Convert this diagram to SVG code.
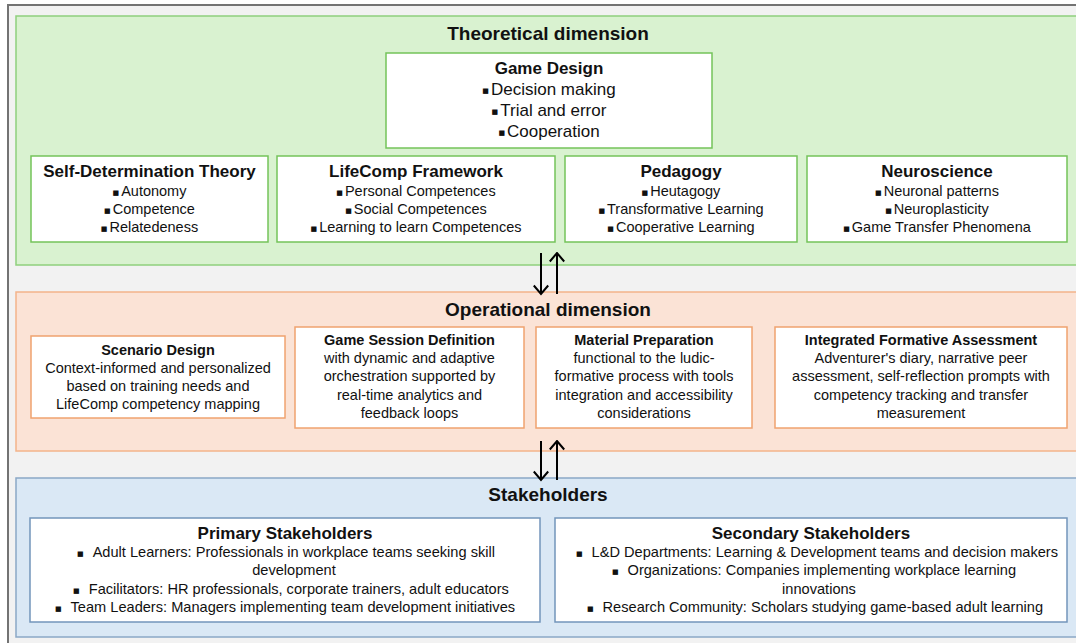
<svg xmlns="http://www.w3.org/2000/svg" width="1076" height="643" viewBox="0 0 1076 643">
<defs>
<marker id="ah" viewBox="0 0 12 16" refX="10.5" refY="8" markerWidth="12" markerHeight="16" markerUnits="userSpaceOnUse" orient="auto">
<path d="M2,0.8 L10.5,8 L2,15.2" fill="none" stroke="#000" stroke-width="2"/>
</marker>
<style>
text{font-family:"Liberation Sans",Arial,sans-serif;fill:#111;text-anchor:middle}
.h{font-weight:bold;font-size:19px}
.t{font-weight:bold;font-size:17px}
.ot{font-weight:bold;font-size:14.5px}
.i{font-size:14.5px}
.gi{font-size:17px}
.s{font-size:14.6px}
.b{font-family:"DejaVu Sans",sans-serif;font-size:7px}
.gbox{fill:#fff;stroke:#74c35a;stroke-width:1.5}
.obox{fill:#fff;stroke:#f0a36f;stroke-width:1.5}
.bbox{fill:#fff;stroke:#7395bb;stroke-width:1.5}
.conn{stroke:#000;stroke-width:2;fill:none;marker-end:url(#ah)}
</style>
</defs>
<rect x="8" y="5" width="1080" height="650" fill="#f2f2f2" stroke="#737373" stroke-width="2"/>

<g id="theoretical">
<rect x="16" y="16" width="1070" height="249" fill="#d9f2d0" stroke="#8fd07d" stroke-width="1.5"/>
<text class="h" x="548" y="40">Theoretical dimension</text>
</g>
<g id="game-design">
<rect class="gbox" x="386" y="53" width="326" height="95"/>
<text class="t" x="549" y="74">Game Design</text>
<text class="gi" x="549" y="95"><tspan class="b" baseline-shift="2">■</tspan><tspan dx="2">Decision making</tspan></text>
<text class="gi" x="549" y="116"><tspan class="b" baseline-shift="2">■</tspan><tspan dx="2">Trial and error</tspan></text>
<text class="gi" x="549" y="137"><tspan class="b" baseline-shift="2">■</tspan><tspan dx="2">Cooperation</tspan></text>
</g>
<g id="sdt">
<rect class="gbox" x="31" y="156" width="237" height="86"/>
<text class="t" x="149.5" y="177">Self-Determination Theory</text>
<text class="i" x="149.5" y="196"><tspan class="b" baseline-shift="1.5">■</tspan><tspan dx="2">Autonomy</tspan></text>
<text class="i" x="149.5" y="214"><tspan class="b" baseline-shift="1.5">■</tspan><tspan dx="2">Competence</tspan></text>
<text class="i" x="149.5" y="232"><tspan class="b" baseline-shift="1.5">■</tspan><tspan dx="2">Relatedeness</tspan></text>
</g>
<g id="lifecomp">
<rect class="gbox" x="277" y="156" width="278" height="86"/>
<text class="t" x="416" y="177">LifeComp Framework</text>
<text class="i" x="416" y="196"><tspan class="b" baseline-shift="1.5">■</tspan><tspan dx="2">Personal Competences</tspan></text>
<text class="i" x="416" y="214"><tspan class="b" baseline-shift="1.5">■</tspan><tspan dx="2">Social Competences</tspan></text>
<text class="i" x="416" y="232"><tspan class="b" baseline-shift="1.5">■</tspan><tspan dx="2">Learning to learn Competences</tspan></text>
</g>
<g id="pedagogy">
<rect class="gbox" x="565" y="156" width="232" height="86"/>
<text class="t" x="681" y="177">Pedagogy</text>
<text class="i" x="681" y="196"><tspan class="b" baseline-shift="1.5">■</tspan><tspan dx="2">Heutagogy</tspan></text>
<text class="i" x="681" y="214"><tspan class="b" baseline-shift="1.5">■</tspan><tspan dx="2">Transformative Learning</tspan></text>
<text class="i" x="681" y="232"><tspan class="b" baseline-shift="1.5">■</tspan><tspan dx="2">Cooperative Learning</tspan></text>
</g>
<g id="neuroscience">
<rect class="gbox" x="807" y="156" width="260" height="86"/>
<text class="t" x="937" y="177">Neuroscience</text>
<text class="i" x="937" y="196"><tspan class="b" baseline-shift="1.5">■</tspan><tspan dx="2">Neuronal patterns</tspan></text>
<text class="i" x="937" y="214"><tspan class="b" baseline-shift="1.5">■</tspan><tspan dx="2">Neuroplasticity</tspan></text>
<text class="i" x="937" y="232"><tspan class="b" baseline-shift="1.5">■</tspan><tspan dx="2">Game Transfer Phenomena</tspan></text>
</g>

<g id="operational">
<rect x="16" y="292" width="1070" height="159" fill="#fbe3d6" stroke="#f4b48a" stroke-width="1.5"/>
<text class="h" x="548" y="316">Operational dimension</text>
</g>
<g id="scenario-design">
<rect class="obox" x="31" y="336" width="254" height="82"/>
<text class="ot" x="158" y="355">Scenario Design</text>
<text class="i" x="158" y="373">Context-informed and personalized</text>
<text class="i" x="158" y="391">based on training needs and</text>
<text class="i" x="158" y="409">LifeComp competency mapping</text>
</g>
<g id="game-session">
<rect class="obox" x="295" y="327" width="229" height="101"/>
<text class="ot" x="409.5" y="345">Game Session Definition</text>
<text class="i" x="409.5" y="363">with dynamic and adaptive</text>
<text class="i" x="409.5" y="381">orchestration supported by</text>
<text class="i" x="409.5" y="400">real-time analytics and</text>
<text class="i" x="409.5" y="418">feedback loops</text>
</g>
<g id="material-preparation">
<rect class="obox" x="536" y="327" width="216" height="101"/>
<text class="ot" x="644" y="345">Material Preparation</text>
<text class="i" x="644" y="363">functional to the ludic-</text>
<text class="i" x="644" y="381">formative process with tools</text>
<text class="i" x="644" y="400">integration and accessibility</text>
<text class="i" x="644" y="418">considerations</text>
</g>
<g id="formative-assessment">
<rect class="obox" x="775" y="327" width="292" height="101"/>
<text class="ot" x="921" y="345">Integrated Formative Assessment</text>
<text class="i" x="921" y="363">Adventurer's diary, narrative peer</text>
<text class="i" x="921" y="381">assessment, self-reflection prompts with</text>
<text class="i" x="921" y="400">competency tracking and transfer</text>
<text class="i" x="921" y="418">measurement</text>
</g>

<g id="stakeholders">
<rect x="16" y="478" width="1070" height="159" fill="#dae8f5" stroke="#8ba8c6" stroke-width="1.5"/>
<text class="h" x="548" y="501">Stakeholders</text>
</g>
<g id="primary">
<rect class="bbox" x="30" y="518" width="510" height="104"/>
<text class="t" x="285" y="539">Primary Stakeholders</text>
<text class="s" x="286" y="557"><tspan class="b" baseline-shift="1.5">■</tspan><tspan dx="9">Adult Learners: Professionals in workplace teams seeking skill</tspan></text>
<text class="s" x="294" y="575">development</text>
<text class="s" x="291" y="594"><tspan class="b" baseline-shift="1.5">■</tspan><tspan dx="9">Facilitators: HR professionals, corporate trainers, adult educators</tspan></text>
<text class="s" x="285" y="612"><tspan class="b" baseline-shift="1.5">■</tspan><tspan dx="9">Team Leaders: Managers implementing team development initiatives</tspan></text>
</g>
<g id="secondary">
<rect class="bbox" x="555" y="518" width="512" height="104"/>
<text class="t" x="811" y="539">Secondary Stakeholders</text>
<text class="s" x="817" y="557"><tspan class="b" baseline-shift="1.5">■</tspan><tspan dx="9">L&amp;D Departments: Learning &amp; Development teams and decision makers</tspan></text>
<text class="s" x="814" y="575"><tspan class="b" baseline-shift="1.5">■</tspan><tspan dx="9">Organizations: Companies implementing workplace learning</tspan></text>
<text class="s" x="819" y="594">innovations</text>
<text class="s" x="815" y="612"><tspan class="b" baseline-shift="1.5">■</tspan><tspan dx="9">Research Community: Scholars studying game-based adult learning</tspan></text>
</g>

<g id="connectors">
<line class="conn" x1="541" y1="253" x2="541" y2="294"/>
<line class="conn" x1="557" y1="294" x2="557" y2="253"/>
<line class="conn" x1="541" y1="441" x2="541" y2="480"/>
<line class="conn" x1="557" y1="480" x2="557" y2="441"/>
</g>
</svg>
